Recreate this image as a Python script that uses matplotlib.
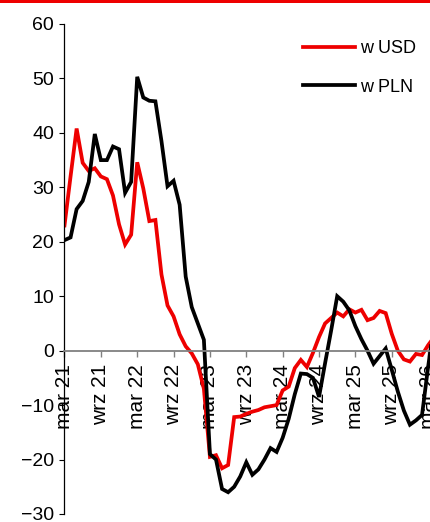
import matplotlib
matplotlib.use('Agg')
import matplotlib.pyplot as plt
from matplotlib.patches import Rectangle

plt.rcParams['font.family'] = ['Liberation Sans', 'DejaVu Sans']

# dane miesieczne od mar 21
w_usd = [23, 32, 40.8, 34.5, 33, 33.5, 32, 31.5, 28.5, 23.2, 19.5, 21.3,
         34.6, 29.8, 23.8, 24, 14, 8.3, 6.3, 3, 0.8, -0.5, -2.5, -7,
         -19.5, -19.2, -21.6, -21, -12.2, -12.1, -11.6, -11.2, -10.9, -10.4, -10.2, -10,
         -7.3, -6.6, -3.2, -1.7, -3, -0.4, 2.5, 5, 6, 7, 6.3, 7.6,
         7, 7.5, 5.6, 6, 7.3, 6.9, 3.1, 0, -1.6, -2, -0.6, -0.8,
         1, 2.5]
w_pln = [20.3, 20.8, 26, 27.5, 31, 39.8, 35, 35, 37.5, 37, 29, 31,
         50.3, 46.5, 45.9, 45.8, 38.5, 30.2, 31.2, 26.8, 13.6, 8, 5, 2,
         -19, -20, -25.4, -26, -25, -23.1, -20.5, -22.8, -21.8, -20, -17.9, -18.6,
         -16, -12.5, -8, -4.2, -4.3, -5, -8.5, -2.3, 3.7, 10, 9, 7.4,
         4.5, 2.1, 0, -2.4, -1, 0.4, -3.5, -7.5, -11, -13.6, -12.8, -11.8,
         -3, 5]
etykiety = ['mar 21', 'wrz 21', 'mar 22', 'wrz 22', 'mar 23', 'wrz 23',
            'mar 24', 'wrz 24', 'mar 25', 'wrz 25', 'mar 26']

x = list(range(len(w_usd)))

fig = plt.figure(figsize=(4.31, 5.22), dpi=100)
ax = fig.add_axes([64.5/431, 1-514/522, 1-64.5/431, (514-24)/522])

ax.plot(x, w_usd, color='#ee0000', lw=2.7, label='w USD', solid_joinstyle='miter')
ax.plot(x, w_pln, color='black', lw=2.7, label='w PLN', solid_joinstyle='miter')

ax.set_xlim(0, 366.5/6.06)
ax.set_ylim(-30, 60)
ax.set_yticks(range(-30, 61, 10))
ax.tick_params(axis='y', direction='out', length=3.5, width=0.8, labelsize=14, pad=4)

# os x na zerze
ax.spines['bottom'].set_position(('data', 0))
ax.spines['bottom'].set_color('#808080')
ax.spines['bottom'].set_linewidth(1.3)
ax.spines['top'].set_visible(False)
ax.spines['right'].set_visible(False)
ax.spines['left'].set_linewidth(0.9)
ax.set_xticks(range(0, 61, 6))
ax.set_xticklabels(etykiety, rotation=90, va='top', ha='center')
ax.tick_params(axis='x', direction='out', length=4.5, width=1, color='#808080', labelsize=15, pad=5)

ax.legend(loc='upper left', bbox_to_anchor=(303/431, 1-40/522), bbox_transform=fig.transFigure,
          frameon=False, fontsize=13, handlelength=2.9, handletextpad=0.25,
          labelspacing=1.2, borderpad=0, borderaxespad=0)

# czerwony pasek u gory
fig.add_artist(Rectangle((0, 1-3/522), 1, 3/522, transform=fig.transFigure,
                         color='#ee0000', lw=0))

fig.savefig('out.png', dpi=100)
